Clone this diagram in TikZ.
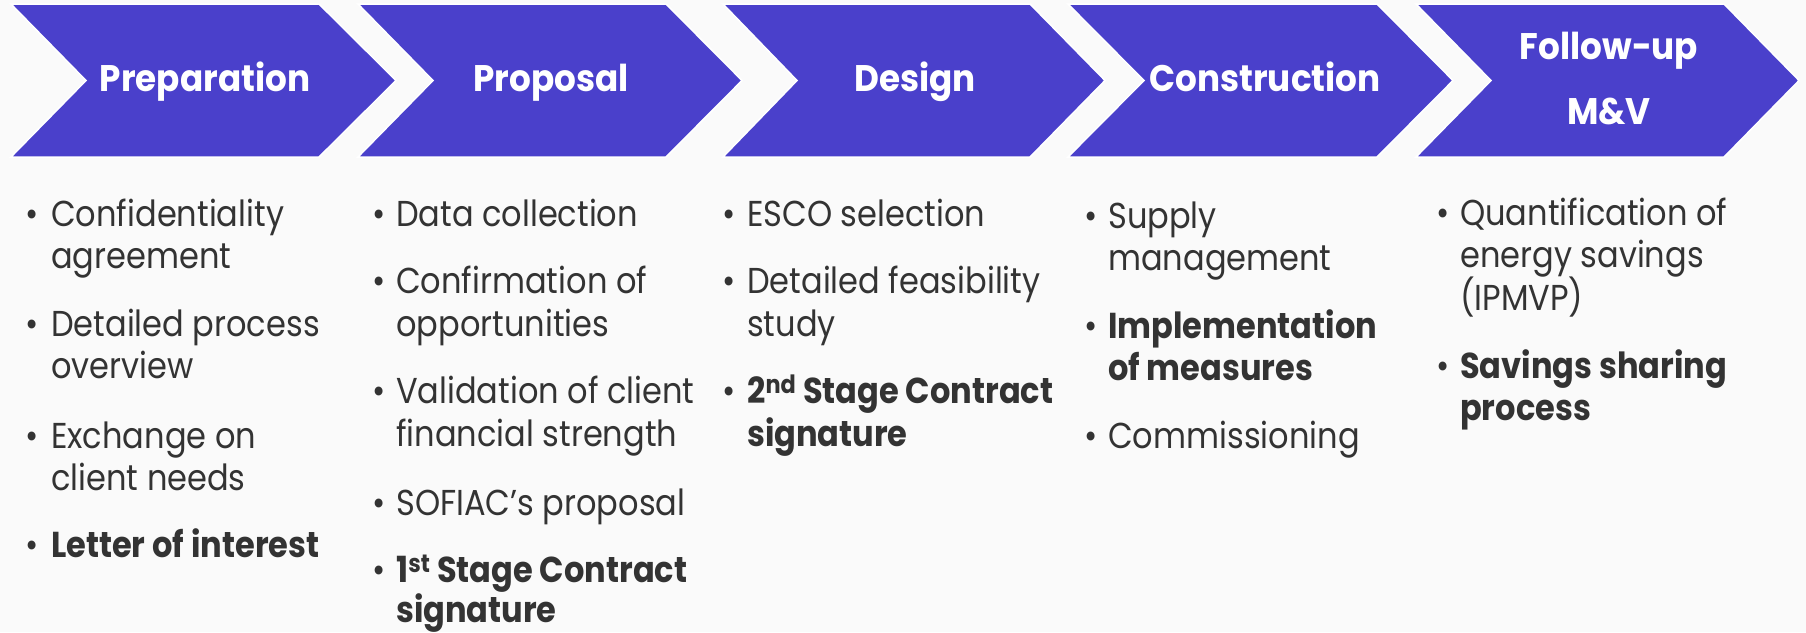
\documentclass[tikz,border=0pt]{standalone}
\usepackage{fontspec}
\setmainfont[FakeStretch=0.89]{Poppins}
\newfontfamily\titlefont[FakeStretch=0.925]{Poppins}
\definecolor{chev}{HTML}{4A40CB}
\definecolor{bg}{HTML}{FAFAFA}
\definecolor{txt}{HTML}{333333}
\newcommand\Ln[4]{\node[ln] (#1) at (#2,#3) {#4};}
\newcommand\Bu[3]{\node[bul] (#1) at (#2,#3) {•};}
\begin{document}
\begin{tikzpicture}[x=1pt,y=-1pt,
  chevron/.style={fill=chev,draw=white,line width=1.5pt,line join=miter},
  title/.style={anchor=base,text=white,font=\titlefont\fontsize{37}{40}\selectfont\bfseries,inner sep=0pt},
  ln/.style={anchor=base west,text=txt,font=\fontsize{36}{42}\selectfont,inner sep=0pt},
  bul/.style={anchor=base,text=txt,font=\fontsize{36}{42}\selectfont,inner sep=0pt}]
\fill[bg] (0,0) rectangle (1806,632);
\useasboundingbox (0,0) rectangle (1806,632);
% chevrons
\draw[chevron] (11,4) -- (319,4) -- (396,80.5) -- (319,157) -- (11,157) -- (86,80.5) -- cycle;
\draw[chevron] (358,4) -- (666,4) -- (742,80.5) -- (666,157) -- (358,157) -- (433,80.5) -- cycle;
\draw[chevron] (723,4) -- (1030,4) -- (1105,80.5) -- (1030,157) -- (723,157) -- (797,80.5) -- cycle;
\draw[chevron] (1068,4) -- (1377,4) -- (1453,80.5) -- (1377,157) -- (1068,157) -- (1144,80.5) -- cycle;
\draw[chevron] (1416,4) -- (1724,4) -- (1799,80.5) -- (1724,157) -- (1416,157) -- (1491,80.5) -- cycle;
% titles
\node[title] (t1) at (205,91) {Preparation};
\node[title] (t2) at (551,91.5) {Proposal};
\node[title] (t3) at (915,91.5) {Design};
\node[title] (t4) at (1265,91) {Construction};
\node[title] (t5a) at (1609,59) {Follow-up};
\node[title] (t5b) at (1609,124) {M\&V};
% column 1
\Bu{b11}{32}{226}\Ln{l11}{51}{226}{Confidentiality}\Ln{l12}{51}{268}{agreement}
\Bu{b12}{32}{336}\Ln{l13}{51}{336}{Detailed process}\Ln{l14}{51}{378}{overview}
\Bu{b13}{32}{448}\Ln{l15}{51}{448}{Exchange on}\Ln{l16}{51}{490}{client needs}
\Bu{b14}{32}{557}\Ln{l17}{51}{557}{\bfseries Letter of interest}
% column 2
\Bu{b21}{379}{226}\Ln{l21}{396}{226}{Data collection}
\Bu{b22}{379}{293}\Ln{l22}{396}{293}{Confirmation of}\Ln{l23}{396}{336}{opportunities}
\Bu{b23}{379}{403}\Ln{l24}{396}{403}{Validation of client}\Ln{l25}{396}{446}{financial strength}
\Bu{b24}{379}{515}\Ln{l26}{396}{515}{SOFIAC’s proposal}
\Bu{b25}{379}{582}\Ln{l27}{396}{582}{\bfseries 1\textsuperscript{st} Stage Contract}\Ln{l28}{396}{622}{\bfseries signature}
% column 3
\Bu{b31}{729}{226}\Ln{l31}{747}{226}{ESCO selection}
\Bu{b32}{729}{293}\Ln{l32}{747}{293}{Detailed feasibility}\Ln{l33}{747}{336}{study}
\Bu{b33}{729}{403}\Ln{l34}{747}{403}{\bfseries 2\textsuperscript{nd} Stage Contract}\Ln{l35}{747}{446}{\bfseries signature}
% column 4
\Bu{b41}{1091}{228}\Ln{l41}{1108}{228}{Supply}\Ln{l42}{1108}{270}{management}
\Bu{b42}{1091}{338}\Ln{l43}{1108}{338}{\bfseries Implementation}\Ln{l44}{1108}{380}{\bfseries of measures}
\Bu{b43}{1091}{448}\Ln{l45}{1108}{448}{Commissioning}
% column 5
\Bu{b51}{1443}{225}\Ln{l51}{1460}{225}{Quantification of}\Ln{l52}{1460}{267}{energy savings}\Ln{l53}{1460}{310}{(IPMVP)}
\Bu{b52}{1443}{378}\Ln{l54}{1460}{378}{\bfseries Savings sharing}\Ln{l55}{1460}{420}{\bfseries process}
\end{tikzpicture}
\end{document}
